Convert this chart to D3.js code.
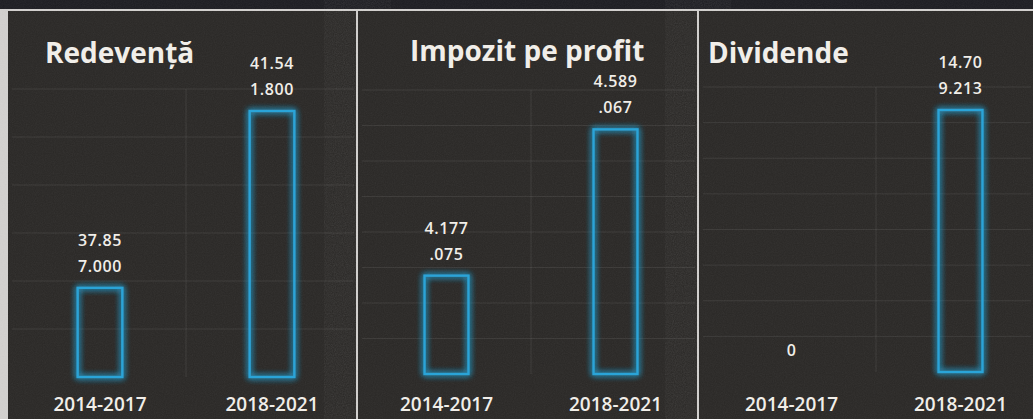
<!DOCTYPE html>
<html>
<head>
<meta charset="utf-8">
<script src="https://cdn.jsdelivr.net/npm/d3@7"></script>
<style>
  body { margin: 0; background: #d6d4d2; }
  svg { display: block; }
  text { font-family: "Open Sans", sans-serif; fill: #f1eee9; }
</style>
</head>
<body>
<div id="chart-area"></div>
<script>
// data
const categories = ["2014-2017", "2018-2021"];
const titles = ["Redevență", "Impozit pe profit", "Dividende"];
const redeventa = [37857000, 41541800];
const impozit = [4177075, 4589067];
const dividende = [0, 14709213];
const yDomains = [[36e6, 42e6], [3.9e6, 4.7e6], [0, 16e6]];
const yTickSteps = [1e6, 1e5, 2e6];

const series = [redeventa, impozit, dividende];

// layout of the three panels
const W = 1033, H = 419;
const panels = [
	{ x0: 8,   x1: 356,  plotX: 14,  plotW: 344, base: 377, top: 89, titleX: 45,  titleY: 63 },
	{ x0: 358, x1: 697,  plotX: 362, plotW: 338, base: 374, top: 90, titleX: 410, titleY: 61 },
	{ x0: 699, x1: 1033, plotX: 707, plotW: 338, base: 372, top: 87, titleX: 708, titleY: 63 }
];

var svg = d3.select("#chart-area")
	.append("svg")
		.attr("width", W)
		.attr("height", H);

var defs = svg.append("defs");

// glow around the bar outlines
var glow = defs.append("filter")
	.attr("id", "glow")
	.attr("x", "-50%").attr("y", "-20%")
	.attr("width", "200%").attr("height", "140%");
glow.append("feGaussianBlur").attr("in", "SourceGraphic").attr("stdDeviation", 3).attr("result", "blur");
var merge = glow.append("feMerge");
merge.append("feMergeNode").attr("in", "blur");
merge.append("feMergeNode").attr("in", "blur");
merge.append("feMergeNode").attr("in", "SourceGraphic");

// grain, like the scan
var grain = defs.append("filter").attr("id", "grain");
grain.append("feTurbulence").attr("type", "fractalNoise").attr("baseFrequency", 0.9).attr("numOctaves", 2).attr("seed", 3);
grain.append("feColorMatrix").attr("type", "saturate").attr("values", 0);

// page background
svg.append("rect").attr("width", W).attr("height", H).attr("fill", "#d3d1cf");
svg.append("rect").attr("width", W).attr("height", 9).attr("fill", "#1d1d22");

// Romanian number format: 37.857.000
var ro = d3.formatLocale({ decimal: ",", thousands: ".", grouping: [3], currency: ["", " lei"] });
var fmt = ro.format(",d");

function splitLabel(v) {
	var s = fmt(v);
	return s.length > 5 ? [s.slice(0, 5), s.slice(5)] : [s];
}

panels.forEach(function(p, i) {
	var g = svg.append("g");

	g.append("rect")
		.attr("x", p.x0).attr("y", 11)
		.attr("width", p.x1 - p.x0).attr("height", H - 11)
		.attr("fill", "#2a2826");
	g.append("rect")
		.attr("x", p.x0).attr("y", 11)
		.attr("width", p.x1 - p.x0).attr("height", H - 11)
		.attr("filter", "url(#grain)")
		.attr("opacity", 0.07);

	var x = d3.scaleBand()
		.domain(categories)
		.range([p.plotX, p.plotX + p.plotW])
		.paddingInner(0.74)
		.paddingOuter(0.37);

	var y = d3.scaleLinear()
		.domain(yDomains[i])
		.range([p.base, p.top]);

	// gridlines
	var ticks = d3.range(yDomains[i][0] + yTickSteps[i], yDomains[i][1] + yTickSteps[i] / 2, yTickSteps[i]);
	g.selectAll(".grid")
		.data(ticks)
		.enter().append("line")
			.attr("x1", p.x0 + 4).attr("x2", p.x1 - 2)
			.attr("y1", function(d) { return y(d); })
			.attr("y2", function(d) { return y(d); })
			.attr("stroke", "#ffffff")
			.attr("stroke-opacity", 0.08);
	g.append("line")
		.attr("x1", p.plotX + p.plotW / 2).attr("x2", p.plotX + p.plotW / 2)
		.attr("y1", y(yDomains[i][1])).attr("y2", p.base)
		.attr("stroke", "#ffffff")
		.attr("stroke-opacity", 0.08);

	// title
	g.append("text")
		.attr("x", p.titleX).attr("y", p.titleY)
		.attr("font-size", 28)
		.attr("font-weight", 700)
		.text(titles[i]);

	var data = series[i].map(function(v, j) { return { cat: categories[j], value: v }; });

	// bars (outline only)
	g.selectAll(".bar")
		.data(data.filter(function(d) { return d.value > 0; }))
		.enter().append("rect")
			.attr("x", function(d) { return x(d.cat); })
			.attr("y", function(d) { return y(d.value); })
			.attr("width", x.bandwidth())
			.attr("height", function(d) { return p.base - y(d.value); })
			.attr("fill", "none")
			.attr("stroke", "#2ba4d8")
			.attr("stroke-width", 2.4)
			.attr("filter", "url(#glow)");

	// value labels
	data.forEach(function(d) {
		var lines = splitLabel(d.value);
		var yTop = d.value > 0 ? y(d.value) : p.base;
		var t = g.append("text")
			.attr("text-anchor", "middle")
			.attr("font-size", 16)
			.attr("font-weight", 600)
			.attr("letter-spacing", 0.6);
		lines.forEach(function(l, k) {
			t.append("tspan")
				.attr("x", x(d.cat) + x.bandwidth() / 2)
				.attr("y", yTop - 16 - (lines.length - 1 - k) * 26)
				.text(l);
		});
	});

	// category labels
	g.selectAll(".cat")
		.data(categories)
		.enter().append("text")
			.attr("x", function(d) { return x(d) + x.bandwidth() / 2; })
			.attr("y", 411)
			.attr("text-anchor", "middle")
			.attr("font-size", 19)
			.attr("font-weight", 600)
			.text(function(d) { return d; });
});
</script>
</body>
</html>
